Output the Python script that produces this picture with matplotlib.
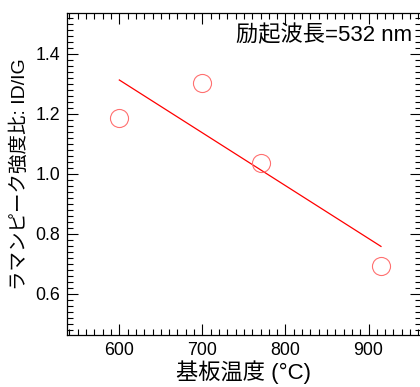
import matplotlib
matplotlib.use("Agg")
import matplotlib.pyplot as plt
from matplotlib.ticker import MultipleLocator
import numpy as np

# substrate temperature vs Raman D/G intensity ratio
temps = [600, 700, 770, 915]
ratios = [1.187, 1.303, 1.037, 0.692]

plt.rcParams['font.family'] = ['Liberation Sans', 'Noto Sans CJK JP']

fig = plt.figure(figsize=(4.2, 3.87), dpi=100)
ax = fig.add_axes([0.1595, 0.1344, 0.8425, 0.832])

# linear fit over the measured range
coef = np.polyfit(temps, ratios, 1)
xfit = np.array([min(temps), max(temps)])
ax.plot(xfit, np.polyval(coef, xfit), color='#ff0000', lw=0.9)

ax.plot(temps, ratios, 'o', ms=13, mfc='none', mec='#ff7070', mew=0.8)

ax.set_xlim(537, 963)
ax.set_ylim(0.463, 1.535)
ax.xaxis.set_major_locator(MultipleLocator(100))
ax.xaxis.set_minor_locator(MultipleLocator(10))
ax.yaxis.set_major_locator(MultipleLocator(0.2))
ax.yaxis.set_minor_locator(MultipleLocator(0.02))
ax.yaxis.set_major_formatter(lambda v, p: f"{v:.1f}")

ax.tick_params(which='both', direction='in', top=True, right=True, width=0.8)
ax.tick_params(which='major', length=8, labelsize=12.8, pad=5)
ax.tick_params(which='minor', length=4)
for s in ax.spines.values():
    s.set_linewidth(0.9)

ax.set_xlabel('基板温度 (°C)', fontsize=16, labelpad=1)
ax.set_ylabel('ラマンピーク強度比: ID/IG', fontsize=14, labelpad=5)

ax.text(0.975, 0.963, '励起波長=532 nm', transform=ax.transAxes,
        ha='right', va='top', fontsize=16)

fig.savefig('out.png', dpi=100)
